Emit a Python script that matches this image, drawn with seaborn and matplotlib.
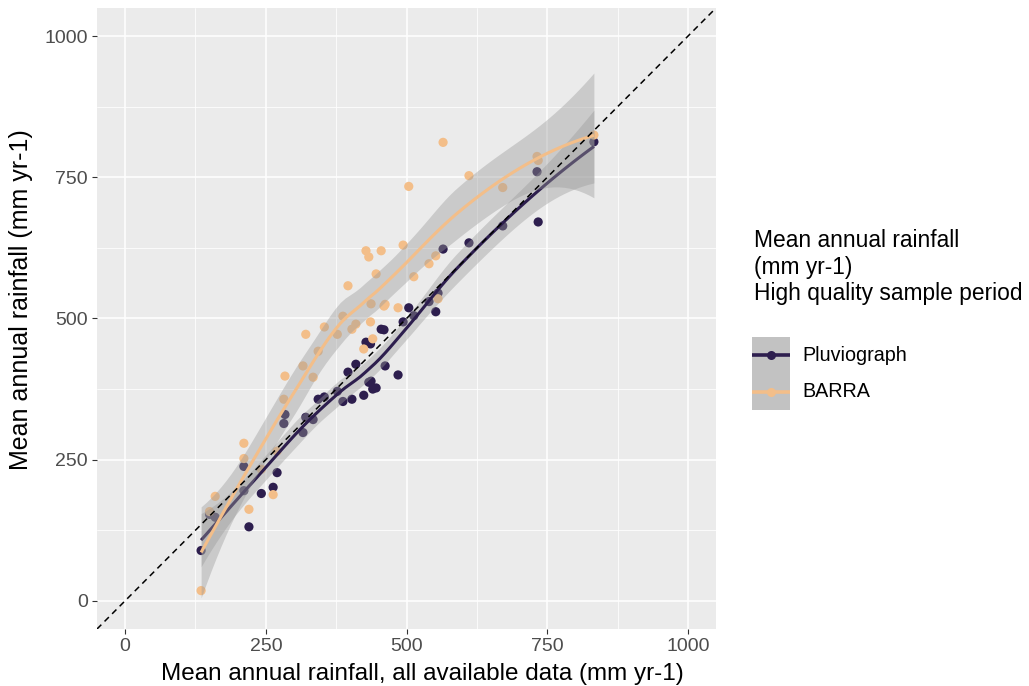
import numpy as np
import pandas as pd
import matplotlib
matplotlib.use("Agg")
import matplotlib.pyplot as plt
from matplotlib.lines import Line2D
from matplotlib.patches import Rectangle
import seaborn as sns

# Station means: all available data (x) and high quality sample period (y)
station_x = [135, 150, 160, 211, 211, 220, 242, 263, 270, 282, 284, 316, 321, 334,
             343, 354, 377, 387, 396, 403, 410, 424, 428, 433, 436, 437, 440, 446,
             455, 460, 462, 485, 494, 504, 513, 540, 552, 556, 565, 611, 671, 732,
             734, 833]
pluvio_y = [89, 153, 148, 195, 238, 131, 190, 201, 227, 314, 330, 298, 325, 321,
            357, 361, 371, 353, 405, 357, 419, 364, 458, 387, 455, 389, 375, 377,
            481, 480, 416, 400, 494, 519, 505, 530, 512, 545, 623, 634, 664, 760,
            671, 813]
barra_y = [18, 158, 185, 279, 252, 162, 233, 188, 265, 357, 398, 416, 472, 396,
           442, 485, 472, 504, 558, 481, 490, 446, 620, 609, 494, 526, 464, 579,
           620, 522, 525, 519, 630, 734, 574, 597, 611, 535, 812, 753, 732, 787,
           780, 825]

series_names = ["Pluviograph", "BARRA"]
series_colors = ["#2D1E4E", "#F3BE89"]
tick_values = [0, 250, 500, 750, 1000]
minor_ticks = [125, 375, 625, 875]
legend_title = "Mean annual rainfall\n(mm yr-1)\nHigh quality sample period"
x_label = "Mean annual rainfall, all available data (mm yr-1)"
y_label = "Mean annual rainfall (mm yr-1)"

df = pd.concat([
    pd.DataFrame({"all_data": station_x, "hq_period": pluvio_y, "source": series_names[0]}),
    pd.DataFrame({"all_data": station_x, "hq_period": barra_y, "source": series_names[1]}),
], ignore_index=True)


def loess_fit(x, y, grid, span=0.75, cell=0.2):
    """Local quadratic loess (tricube weights) evaluated on a kd-tree of
    vertices and blended with cubic Hermite interpolation; 95% bands."""
    x = np.asarray(x, float)
    y = np.asarray(y, float)
    n = len(x)
    q = int(np.floor(n * span))

    def local_rows(x0):
        d = np.abs(x - x0)
        h = np.sort(d)[q - 1]
        w = np.clip(1 - (d / h) ** 3, 0, None) ** 3
        X = np.column_stack([np.ones(n), x - x0, (x - x0) ** 2])
        XtW = X.T * w
        B = np.linalg.solve(XtW @ X, XtW)
        return B[0], B[1]

    # vertices of the kd cells
    lo, hi = x.min(), x.max()
    mu = 0.005 * (hi - lo)
    verts = [lo - mu, hi + mu]
    fc = int(np.floor(n * span * cell))

    def split(pts):
        if len(pts) <= fc:
            return
        pts = np.sort(pts)
        m = (len(pts) + 1) // 2 - 1
        v = 0.5 * (pts[m] + pts[m + 1])
        if v <= pts[0] or v >= pts[-1]:
            return
        verts.append(v)
        split(pts[pts <= v])
        split(pts[pts > v])

    split(x)
    verts = np.unique(verts)
    vals, slopes = zip(*[local_rows(v) for v in verts])
    vals, slopes = np.array(vals), np.array(slopes)

    def interp_rows(pts):
        rows = []
        for p in pts:
            i = np.clip(np.searchsorted(verts, p) - 1, 0, len(verts) - 2)
            h = verts[i + 1] - verts[i]
            t = (p - verts[i]) / h
            h00 = 2 * t**3 - 3 * t**2 + 1
            h10 = t**3 - 2 * t**2 + t
            h01 = -2 * t**3 + 3 * t**2
            h11 = t**3 - t**2
            rows.append(h00 * vals[i] + h10 * h * slopes[i]
                        + h01 * vals[i + 1] + h11 * h * slopes[i + 1])
        return np.array(rows)

    L = interp_rows(x)
    resid = y - L @ y
    M = np.eye(n) - L
    MtM = M.T @ M
    d1 = np.trace(MtM)
    d2 = np.trace(MtM @ MtM)
    sigma = np.sqrt(resid @ resid / d1)
    dof = d1 ** 2 / d2
    tq = 1.959964 + 2.37 / dof
    Lg = interp_rows(grid)
    fit = Lg @ y
    se = sigma * np.sqrt((Lg ** 2).sum(axis=1))
    return fit, fit - tq * se, fit + tq * se


sns.set_theme(style="darkgrid")
plt.rcParams["font.family"] = ["Liberation Sans", "DejaVu Sans"]

W, H = 1029, 686
fig = plt.figure(figsize=(W / 100, H / 100), dpi=100)
ax = fig.add_axes([97 / W, 1 - 629 / H, 619 / W, 621 / H])
ax.set_facecolor("#EBEBEB")

sns.scatterplot(data=df, x="all_data", y="hq_period", hue="source",
                hue_order=series_names, palette=series_colors, s=44,
                linewidth=0, legend=False, ax=ax, zorder=3)

for name, color in zip(series_names, series_colors):
    sub = df[df["source"] == name]
    grid = np.linspace(sub["all_data"].min(), sub["all_data"].max(), 80)
    fit, lo, hi = loess_fit(sub["all_data"], sub["hq_period"], grid)
    ax.fill_between(grid, lo, hi, color="#999999", alpha=0.4, linewidth=0, zorder=4)
    ax.plot(grid, fit, color=color, linewidth=2.2, zorder=4, solid_capstyle="butt")

ax.axline((0, 0), slope=1, color="black", linestyle=(0, (4, 3)), linewidth=1.1, zorder=5)

ax.set_xlim(-50, 1050)
ax.set_ylim(-50, 1050)
ax.set_xticks(tick_values)
ax.set_yticks(tick_values)
ax.set_xticks(minor_ticks, minor=True)
ax.set_yticks(minor_ticks, minor=True)
ax.grid(which="major", color="white", linewidth=1.1)
ax.grid(which="minor", color="white", linewidth=0.55)
for s in ax.spines.values():
    s.set_visible(False)
ax.tick_params(axis="both", which="major", length=3.5, width=0.8, color="#333333",
               labelcolor="#4D4D4D", labelsize=14, pad=3, bottom=True, left=True)
ax.tick_params(axis="both", which="minor", length=0)

ax.set_xlabel(x_label, fontsize=17.5, color="black")
ax.set_ylabel(y_label, fontsize=18, color="black")
ax.xaxis.set_label_coords(0.525, -0.054)
ax.yaxis.set_label_coords(-0.104, 0.53)

# Legend: title, grey key column with one line+dot key per series, labels
fig.text(754 / W, 1 - 229 / H, legend_title, ha="left", va="top",
         fontsize=16.4, linespacing=1.2, color="black")
key_left, key_right, key_top, key_h = 752, 790, 337, 36.5
fig.add_artist(Rectangle((key_left / W, 1 - (key_top + 2 * key_h) / H),
                         (key_right - key_left) / W, 2 * key_h / H,
                         transform=fig.transFigure, facecolor="#C2C2C2",
                         edgecolor="none"))
for i, (name, color) in enumerate(zip(series_names, series_colors)):
    yc = 1 - (key_top + (i + 0.5) * key_h) / H
    fig.add_artist(Line2D([key_left / W, key_right / W], [yc, yc],
                          transform=fig.transFigure, color=color,
                          linewidth=2.6, solid_capstyle="butt"))
    fig.add_artist(Line2D([(key_left + key_right) / 2 / W], [yc],
                          transform=fig.transFigure, color=color, marker="o",
                          markersize=6.5, markeredgewidth=0, linestyle="none"))
    fig.text(802 / W, yc, name, ha="left", va="center", fontsize=14.2,
             color="black")

fig.savefig("out.png", dpi=100, facecolor="white")
